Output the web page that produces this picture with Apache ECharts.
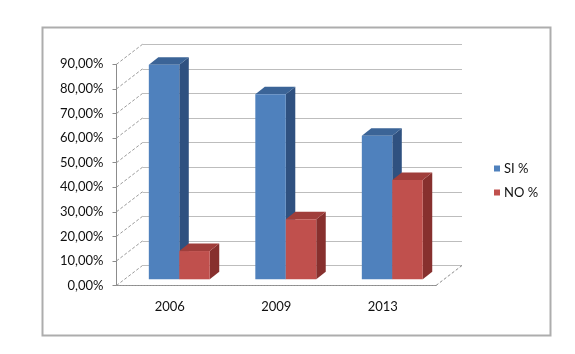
<!DOCTYPE html>
<html>
<head>
<meta charset="utf-8">
<script src="https://cdn.jsdelivr.net/npm/echarts@6/dist/echarts.min.js"></script>
<style>html,body{margin:0;padding:0;background:#fff}#c{width:575px;height:354px}</style>
</head>
<body>
<div id="c"></div>
<script>
var categories = ['2006', '2009', '2013'];
var siValues = [87.3, 75.3, 58.4];
var noValues = [11.5, 24.4, 40.4];
var valueTicks = [0, 10, 20, 30, 40, 50, 60, 70, 80, 90];
var seriesNames = ['SI %', 'NO %'];

var FONT = 'Lato, "Open Sans", sans-serif';
var DEPTH_X = 26, DEPTH_Y = -20;      // floor depth (front -> back wall)
var BAR_SHIFT_X = 9, BAR_SHIFT_Y = -6.2; // bar plane inside the floor
var BAR_DX = 9.5, BAR_DY = -7.5;       // bar own depth
var BAR_W = 0.286;                     // bar width as fraction of band

var palettes = {
  'SI %': {front: '#4F81BD', top: '#3B6497', side: '#2F5180'},
  'NO %': {front: '#C0504D', top: '#A03E3B', side: '#87302E'}
};

function barRenderer(name, startFrac) {
  var pal = palettes[name];
  return function (params, api) {
    var cat = api.value(0), v = api.value(1);
    var c = api.coord([cat, v]);
    var b = api.coord([cat, 0]);
    var band = api.size([1, 0])[0];
    var w = band * BAR_W;
    var x0 = b[0] + band * startFrac + BAR_SHIFT_X;
    var yb = b[1] + BAR_SHIFT_Y;
    var yt = c[1] + BAR_SHIFT_Y;
    return {
      type: 'group',
      children: [
        {type: 'polygon', shape: {points: [[x0 + w, yt], [x0 + w + BAR_DX, yt + BAR_DY], [x0 + w + BAR_DX, yb + BAR_DY], [x0 + w, yb]]}, style: {fill: pal.side}},
        {type: 'polygon', shape: {points: [[x0, yt], [x0 + BAR_DX, yt + BAR_DY], [x0 + w + BAR_DX, yt + BAR_DY], [x0 + w, yt]]}, style: {fill: pal.top}},
        {type: 'rect', shape: {x: x0, y: yt, width: w, height: yb - yt}, style: {fill: pal.front}}
      ]
    };
  };
}

var chart = echarts.init(document.getElementById('c'), null, {renderer: 'canvas'});
var option = {
  backgroundColor: '#ffffff',
  animation: false,
  graphic: [{
    type: 'rect', left: 40, top: 25, z: -10,
    shape: {width: 508, height: 308},
    style: {fill: 'none', stroke: '#adadad', lineWidth: 2}
  }],
  legend: {
    orient: 'vertical', left: 489, top: 157,
    itemWidth: 6, itemHeight: 6, itemGap: 11, icon: 'rect',
    data: seriesNames,
    textStyle: {fontFamily: FONT, fontSize: 13, color: '#111', padding: [0, 0, 0, -1]}
  },
  grid: [
    {left: 116.5, right: 139, top: 64.3, bottom: 68.5},
    {left: 142.5, right: 113, top: 44.3, bottom: 88.5}
  ],
  xAxis: [
    {
      type: 'category', gridIndex: 0, data: categories,
      axisLine: {show: true, lineStyle: {color: '#8c8c8c', type: [2, 1], width: 1}},
      axisTick: {show: false},
      axisLabel: {fontFamily: FONT, fontSize: 13, color: '#111', margin: 15}
    },
    {
      type: 'category', gridIndex: 1, data: categories, show: false
    }
  ],
  yAxis: [
    {
      type: 'value', gridIndex: 0, min: 0, max: 90, interval: 10,
      axisLine: {show: true, lineStyle: {color: '#8c8c8c', width: 1}},
      axisTick: {show: true, inside: false, length: 4, lineStyle: {color: '#8c8c8c'}},
      splitLine: {show: false},
      axisLabel: {
        fontFamily: FONT, fontSize: 13, color: '#111', margin: 13,
        formatter: function (v) { return v.toFixed(2).replace('.', ',') + '%'; }
      }
    },
    {
      type: 'value', gridIndex: 1, min: 0, max: 90, interval: 10,
      axisLine: {show: false}, axisTick: {show: false}, axisLabel: {show: false},
      splitLine: {show: true, lineStyle: {color: '#bdbdbd', width: 1}}
    }
  ],
  series: [
    {
      name: 'wall-diagonals', type: 'custom', xAxisIndex: 0, yAxisIndex: 0, silent: true, z: 1,
      data: valueTicks.map(function (t) { return [0, t]; }),
      renderItem: function (params, api) {
        var cs = params.coordSys;
        var y = api.coord([0, api.value(1)])[1];
        var x = cs.x;
        var children = [{
          type: 'line', shape: {x1: x, y1: y, x2: x + DEPTH_X, y2: y + DEPTH_Y},
          style: {stroke: '#9a9a9a', lineWidth: 1, lineDash: [3, 2]}
        }];
        if (api.value(1) === 0) {
          var xr = cs.x + cs.width;
          children.push({
            type: 'line', shape: {x1: xr, y1: y, x2: xr + DEPTH_X, y2: y + DEPTH_Y},
            style: {stroke: '#8c8c8c', lineWidth: 1, lineDash: [3, 2]}
          });
        }
        return {type: 'group', children: children};
      }
    },
    {
      name: 'SI %', type: 'custom', xAxisIndex: 0, yAxisIndex: 0, z: 3,
      itemStyle: {color: palettes['SI %'].front},
      data: siValues.map(function (v, i) { return [i, v]; }),
      renderItem: barRenderer('SI %', -0.197 - 0.084)
    },
    {
      name: 'NO %', type: 'custom', xAxisIndex: 0, yAxisIndex: 0, z: 4,
      itemStyle: {color: palettes['NO %'].front},
      data: noValues.map(function (v, i) { return [i, v]; }),
      renderItem: barRenderer('NO %', -0.197 - 0.084 + 0.286)
    }
  ]
};
chart.setOption(option);
</script>
</body>
</html>
